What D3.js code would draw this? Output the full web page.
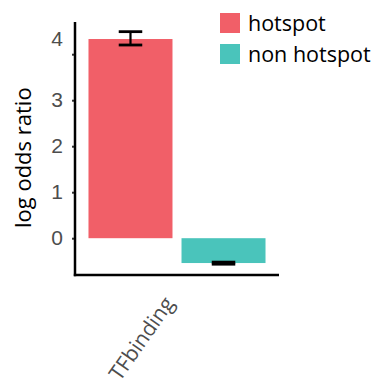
<!DOCTYPE html>
<html>
<head>
<meta charset="utf-8">
<script src="https://cdn.jsdelivr.net/npm/d3@7"></script>
<style>
  body { margin: 0; background: #fff; }
  svg { font-family: "Open Sans", sans-serif; }
</style>
</head>
<body>
<div class="chart"></div>
<script>
const categories = ['TFbinding'];
const groups = ['hotspot', 'non hotspot'];
const values = [4.33, -0.54];
const errLow = [4.20, -0.565];
const errHigh = [4.49, -0.52];
const yTicks = [0, 1, 2, 3, 4];
const colors = ['#F15F68', '#4AC4BB'];

const width = 375;
const height = 384;
const margin = { top: 22, left: 75, bottom: 109, right: 96 };

const svg = d3.select('.chart').append('svg')
  .attr('width', width)
  .attr('height', height);

const x = d3.scaleBand()
  .domain(categories)
  .range([margin.left, width - margin.right]);

const xg = d3.scaleBand()
  .domain(groups)
  .range([0, x.bandwidth()])
  .paddingInner(0.097)
  .paddingOuter(0.145);

const y = d3.scaleLinear()
  .domain([-0.8, 4.7])
  .range([height - margin.bottom, margin.top]);

const rows = groups.map((g, i) => ({
  cat: categories[0], group: g, value: values[i], lo: errLow[i], hi: errHigh[i], color: colors[i]
}));

// bars
svg.selectAll('rect.bar').data(rows)
  .enter().append('rect').attr('class', 'bar')
  .attr('x', d => x(d.cat) + xg(d.group))
  .attr('width', xg.bandwidth())
  .attr('y', d => y(Math.max(0, d.value)))
  .attr('height', d => Math.abs(y(d.value) - y(0)))
  .attr('fill', d => d.color);

// error bars
const capW = xg.bandwidth() * 0.28;
const eb = svg.selectAll('g.err').data(rows)
  .enter().append('g').attr('class', 'err')
  .attr('transform', d => `translate(${x(d.cat) + xg(d.group) + xg.bandwidth() / 2},0)`);
eb.append('line')
  .attr('y1', d => y(d.lo)).attr('y2', d => y(d.hi))
  .attr('stroke', '#000').attr('stroke-width', 2.2);
eb.selectAll('line.cap').data(d => [d.lo, d.hi])
  .enter().append('line').attr('class', 'cap')
  .attr('x1', -capW / 2).attr('x2', capW / 2)
  .attr('y1', d => y(d)).attr('y2', d => y(d))
  .attr('stroke', '#000').attr('stroke-width', 2.8);

// y axis
const yAxis = svg.append('g')
  .attr('transform', `translate(${margin.left},0)`)
  .call(d3.axisLeft(y).tickValues(yTicks).tickSize(3).tickPadding(9).tickFormat(d3.format('d')));
yAxis.select('.domain').remove();
yAxis.selectAll('.tick line').attr('stroke', '#333').attr('stroke-width', 2);
yAxis.selectAll('.tick text')
  .attr('fill', '#4d4d4d')
  .style('font-size', '21px')
  .attr('dy', d => d === 4 ? '-0.4em' : '0.32em');

// axis lines
svg.append('line')
  .attr('x1', margin.left).attr('x2', margin.left)
  .attr('y1', margin.top).attr('y2', height - margin.bottom + 1.2)
  .attr('stroke', '#000').attr('stroke-width', 2.5);
svg.append('line')
  .attr('x1', margin.left - 1.2).attr('x2', width - margin.right)
  .attr('y1', height - margin.bottom).attr('y2', height - margin.bottom)
  .attr('stroke', '#000').attr('stroke-width', 2.5);

// x axis label
svg.selectAll('text.xlab').data(categories)
  .enter().append('text').attr('class', 'xlab')
  .attr('transform', d => `translate(${x(d) + x.bandwidth() / 2 - 14},${height - margin.bottom + 20}) rotate(-55)`)
  .attr('text-anchor', 'end')
  .attr('dy', '0.7em')
  .attr('fill', '#4d4d4d')
  .style('font-size', '21px')
  .text(d => d);

// y title
svg.append('text')
  .attr('transform', `translate(31,${y(1.75)}) rotate(-90)`)
  .attr('text-anchor', 'middle')
  .attr('fill', '#000')
  .style('font-size', '22px')
  .text('log odds ratio');

// legend
const legend = svg.selectAll('g.key').data(groups)
  .enter().append('g').attr('class', 'key')
  .attr('transform', (d, i) => `translate(220,${13 + i * 31})`);
legend.append('rect')
  .attr('width', 20).attr('height', 20)
  .attr('fill', (d, i) => colors[i]);
legend.append('text')
  .attr('x', 28).attr('y', 10).attr('dy', '0.35em')
  .attr('fill', '#000')
  .style('font-size', '21.5px')
  .text(d => d);
</script>
</body>
</html>
